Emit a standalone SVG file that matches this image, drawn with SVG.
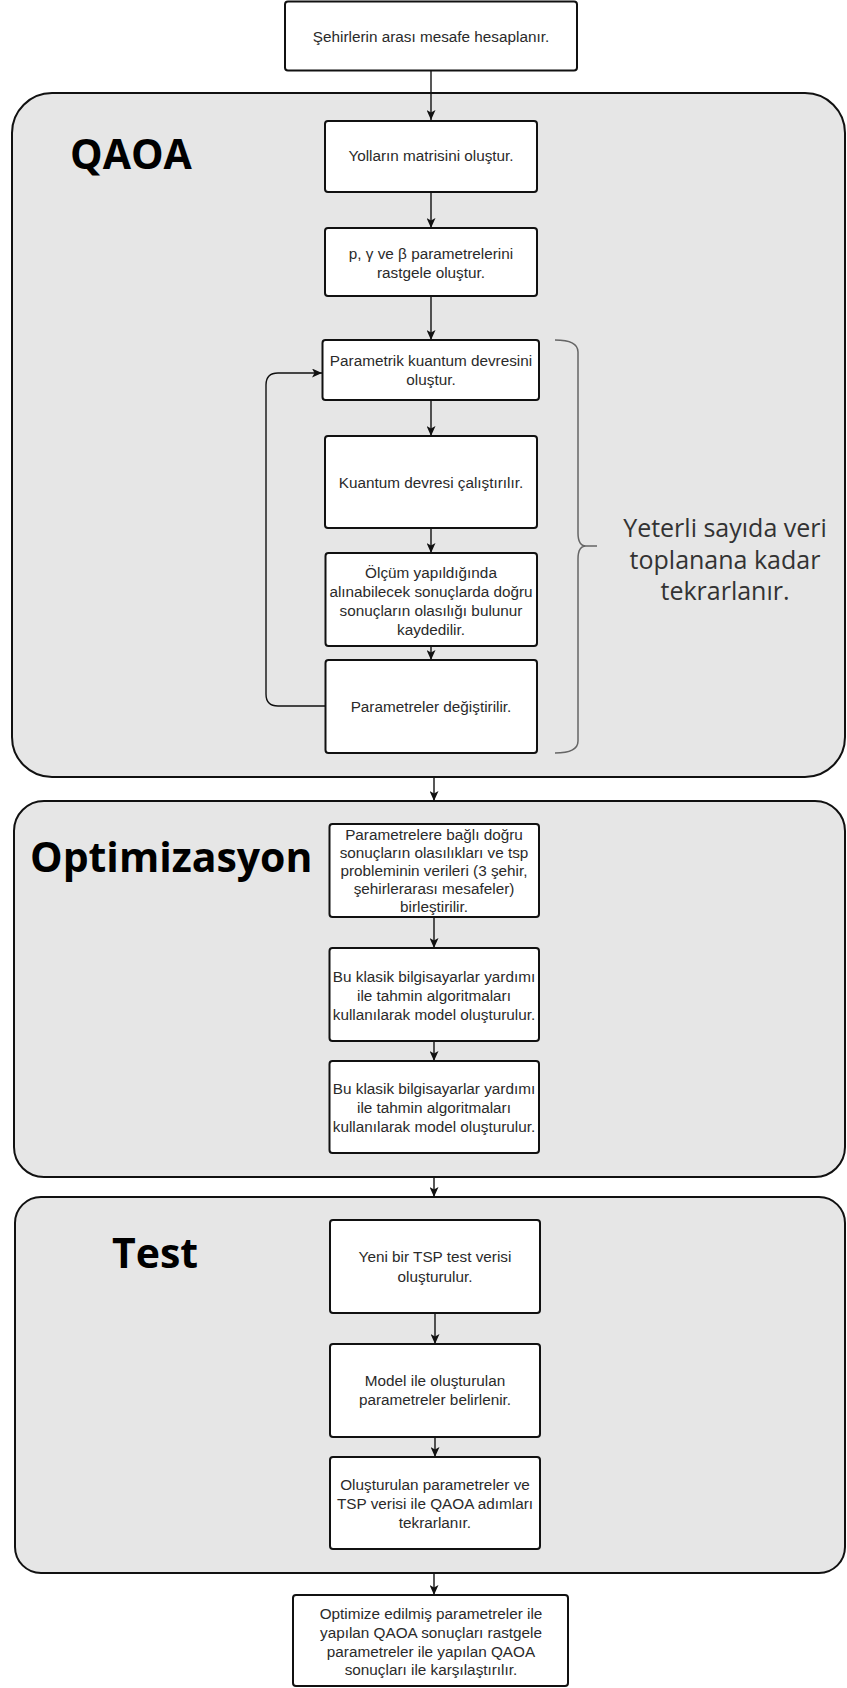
<svg xmlns="http://www.w3.org/2000/svg" width="847" height="1688" viewBox="0 0 847 1688">
<defs>
<style>
.bg{fill:#ffffff}
.cont{fill:#e6e6e6;stroke:#111;stroke-width:2}
.box{fill:#ffffff;stroke:#111;stroke-width:2}
.t{font-family:"Liberation Sans",Arial,sans-serif;font-size:15.3px;fill:#2a2a2a;text-anchor:middle}
.h{font-family:"Open Sans","Noto Sans",sans-serif;font-weight:bold;font-size:41px;fill:#000}
.note{font-family:"Open Sans","Noto Sans",sans-serif;font-size:25px;fill:#333;text-anchor:middle}
.c{fill:none;stroke:#111;stroke-width:1.4}
.brace{fill:none;stroke:#666;stroke-width:1.5}
</style>
<marker id="arr" markerUnits="userSpaceOnUse" markerWidth="11" markerHeight="9" refX="10" refY="4.5" orient="auto">
<path d="M0,0 L10,4.5 L0,9 L2.5,4.5 Z" fill="#111"/>
</marker>
</defs>
<rect class="bg" x="0" y="0" width="847" height="1688"/>

<g id="containers">
<g id="qaoa-group">
<rect class="cont" x="12" y="93" width="833" height="684" rx="40" ry="40"/>
<text class="h" x="70" y="169">QAOA</text>
</g>
<g id="opt-group">
<rect class="cont" x="14" y="801" width="831" height="376" rx="30" ry="30"/>
<text class="h" x="30" y="872">Optimizasyon</text>
</g>
<g id="test-group">
<rect class="cont" x="15" y="1197" width="830" height="376" rx="26" ry="26"/>
<text class="h" x="112" y="1268">Test</text>
</g>
</g>

<g id="connectors">
<path class="c" d="M431,71 V120" marker-end="url(#arr)"/>
<path class="c" d="M431,192 V228" marker-end="url(#arr)"/>
<path class="c" d="M431,296 V340" marker-end="url(#arr)"/>
<path class="c" d="M431,400 V436" marker-end="url(#arr)"/>
<path class="c" d="M431,528 V553" marker-end="url(#arr)"/>
<path class="c" d="M431,646 V660" marker-end="url(#arr)"/>
<path class="c" d="M326,706 H278 Q266,706 266,694 V385 Q266,373 278,373 H322" marker-end="url(#arr)"/>
<path class="c" d="M434,777 V801" marker-end="url(#arr)"/>
<path class="c" d="M434,917 V948" marker-end="url(#arr)"/>
<path class="c" d="M434,1041 V1061" marker-end="url(#arr)"/>
<path class="c" d="M434,1177 V1197" marker-end="url(#arr)"/>
<path class="c" d="M435,1313 V1344" marker-end="url(#arr)"/>
<path class="c" d="M435,1437 V1457" marker-end="url(#arr)"/>
<path class="c" d="M434,1573 V1595" marker-end="url(#arr)"/>
</g>

<g id="n-start">
<rect class="box" x="285" y="1.5" width="292" height="69" rx="3"/>
<text class="t" x="431" y="41.5">Şehirlerin arası mesafe hesaplanır.</text>
</g>
<g id="n-matris">
<rect class="box" x="325" y="121" width="212" height="71" rx="3"/>
<text class="t" x="431" y="160.5">Yolların matrisini oluştur.</text>
</g>
<g id="n-param-rand">
<rect class="box" x="325" y="228" width="212" height="68" rx="3"/>
<text class="t" x="431" y="258.5">p, γ ve β parametrelerini</text>
<text class="t" x="431" y="277.5">rastgele oluştur.</text>
</g>
<g id="n-devre">
<rect class="box" x="322.5" y="340" width="216.5" height="60" rx="3"/>
<text class="t" x="431" y="366">Parametrik kuantum devresini</text>
<text class="t" x="431" y="385">oluştur.</text>
</g>
<g id="n-calistir">
<rect class="box" x="325" y="436" width="212" height="92" rx="3"/>
<text class="t" x="431" y="488">Kuantum devresi çalıştırılır.</text>
</g>
<g id="n-olcum">
<rect class="box" x="325.5" y="553" width="211.5" height="93" rx="3"/>
<text class="t" x="431" y="578">Ölçüm yapıldığında</text>
<text class="t" x="431" y="597">alınabilecek sonuçlarda doğru</text>
<text class="t" x="431" y="616">sonuçların olasılığı bulunur</text>
<text class="t" x="431" y="634.5">kaydedilir.</text>
</g>
<g id="n-degistir">
<rect class="box" x="325.5" y="660" width="211.5" height="93" rx="3"/>
<text class="t" x="431" y="712">Parametreler değiştirilir.</text>
</g>

<g id="n-brace">
<path class="brace" d="M555,340 Q578,340 578,352 V533 Q578,546 586,546 H597 M586,546 Q578,546 578,559 V741 Q578,753 555,753"/>
<text class="note" x="725" y="537">Yeterli sayıda veri</text>
<text class="note" x="725" y="569">toplanana kadar</text>
<text class="note" x="725" y="600">tekrarlanır.</text>
</g>

<g id="n-birlestir">
<rect class="box" x="329.5" y="824" width="209.5" height="93" rx="3"/>
<text class="t" x="434" y="840">Parametrelere bağlı doğru</text>
<text class="t" x="434" y="858">sonuçların olasılıkları ve tsp</text>
<text class="t" x="434" y="876">probleminin verileri (3 şehir,</text>
<text class="t" x="434" y="894">şehirlerarası mesafeler)</text>
<text class="t" x="434" y="912">birleştirilir.</text>
</g>
<g id="n-model1">
<rect class="box" x="329.5" y="948" width="209.5" height="93" rx="3"/>
<text class="t" x="434" y="982">Bu klasik bilgisayarlar yardımı</text>
<text class="t" x="434" y="1001">ile tahmin algoritmaları</text>
<text class="t" x="434" y="1020">kullanılarak model oluşturulur.</text>
</g>
<g id="n-model2">
<rect class="box" x="329.5" y="1061" width="209.5" height="92" rx="3"/>
<text class="t" x="434" y="1094">Bu klasik bilgisayarlar yardımı</text>
<text class="t" x="434" y="1113">ile tahmin algoritmaları</text>
<text class="t" x="434" y="1132">kullanılarak model oluşturulur.</text>
</g>

<g id="n-yeni">
<rect class="box" x="330" y="1220" width="210" height="93" rx="3"/>
<text class="t" x="435" y="1262">Yeni bir TSP test verisi</text>
<text class="t" x="435" y="1282">oluşturulur.</text>
</g>
<g id="n-belirle">
<rect class="box" x="330" y="1344" width="210" height="93" rx="3"/>
<text class="t" x="435" y="1386">Model ile oluşturulan</text>
<text class="t" x="435" y="1405">parametreler belirlenir.</text>
</g>
<g id="n-tekrar">
<rect class="box" x="330" y="1457" width="210" height="92" rx="3"/>
<text class="t" x="435" y="1490">Oluşturulan parametreler ve</text>
<text class="t" x="435" y="1509">TSP verisi ile QAOA adımları</text>
<text class="t" x="435" y="1528">tekrarlanır.</text>
</g>

<g id="n-final">
<rect class="box" x="293" y="1595" width="275" height="91" rx="3"/>
<text class="t" x="431" y="1619">Optimize edilmiş parametreler ile</text>
<text class="t" x="431" y="1638">yapılan QAOA sonuçları rastgele</text>
<text class="t" x="431" y="1657">parametreler ile yapılan QAOA</text>
<text class="t" x="431" y="1675">sonuçları ile karşılaştırılır.</text>
</g>
</svg>
